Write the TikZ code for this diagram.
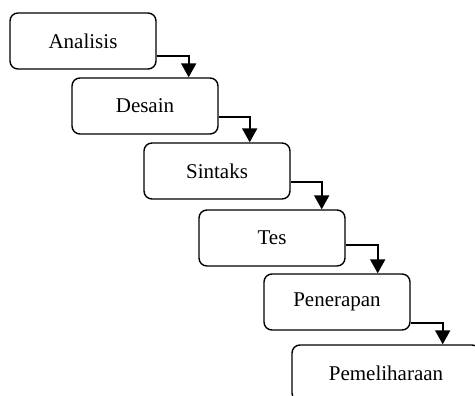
\documentclass[tikz,border=0pt]{standalone}
\usepackage{fontspec}
\setmainfont{Liberation Serif}
\usetikzlibrary{arrows.meta}
\begin{document}
\begin{tikzpicture}[x=1pt,y=-1pt,
    tahap/.style={draw,rounded corners=8pt,line width=1.4pt,minimum width=146pt,
      minimum height=56pt,inner sep=0pt,font=\fontsize{21}{25}\selectfont},
    alur/.style={line width=2pt,-{Triangle[width=15pt,length=14pt]}}]
  \useasboundingbox (0,0) rectangle (475,396);
  \clip (0,0) rectangle (475,396);
  % tahapan
  \node[tahap] (analisis) at (83,41) {Analisis};
  \node[tahap] (desain) at (145,106) {Desain};
  \node[tahap] (sintaks) at (217,171) {Sintaks};
  \node[tahap] (tes) at (272,238) {Tes};
  \node[tahap] (penerapan) at (337,302) {Penerapan};
  \node[tahap,minimum width=188pt] (pemeliharaan) at (386,373) {Pemeliharaan};
  % panah antar tahap
  \draw[alur] ([yshift=-15pt]analisis.east) -- ++(32,0) coordinate (p1) -- (p1 |- desain.north);
  \draw[alur] ([yshift=-11pt]desain.east) -- ++(31,0) coordinate (p2) -- (p2 |- sintaks.north);
  \draw[alur] ([yshift=-11pt]sintaks.east) -- ++(31,0) coordinate (p3) -- (p3 |- tes.north);
  \draw[alur] ([yshift=-7pt]tes.east) -- ++(32,0) coordinate (p4) -- (p4 |- penerapan.north);
  \draw[alur] ([yshift=-21pt]penerapan.east) -- ++(32,0) coordinate (p5) -- (p5 |- pemeliharaan.north);
\end{tikzpicture}
\end{document}
